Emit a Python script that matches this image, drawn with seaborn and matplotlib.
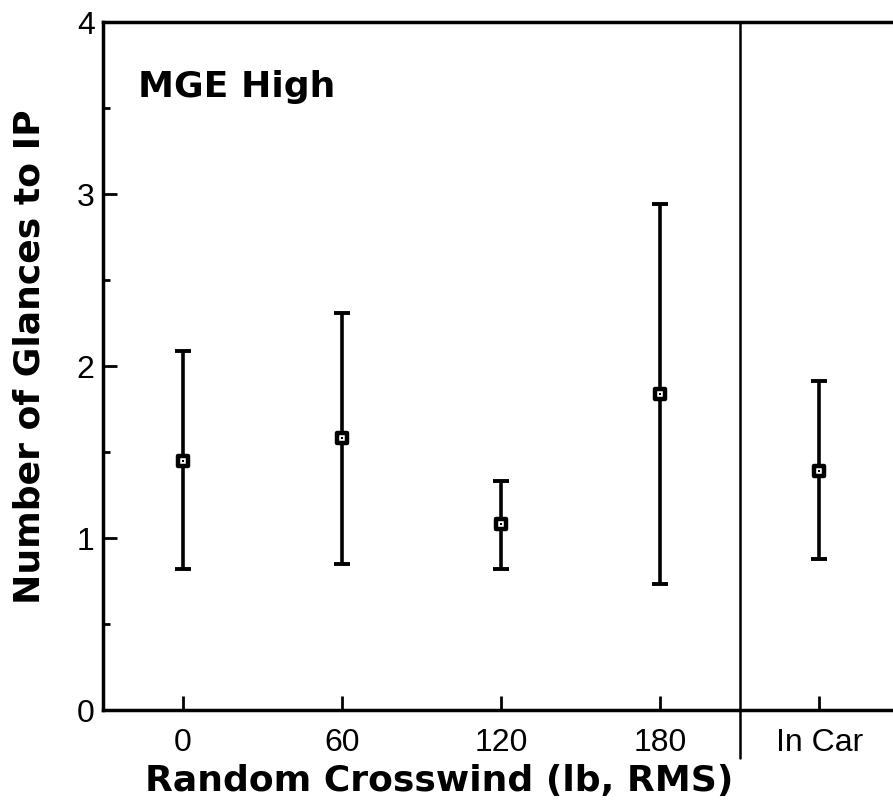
import matplotlib
matplotlib.use("Agg")
import matplotlib.pyplot as plt
import seaborn as sns
import pandas as pd
from matplotlib.ticker import MultipleLocator

categories = ["0", "60", "120", "180", "In Car"]
means = [1.45, 1.58, 1.08, 1.84, 1.39]
lower = [0.82, 0.85, 0.82, 0.73, 0.88]
upper = [2.09, 2.31, 1.33, 2.94, 1.91]
y_ticks = [0, 1, 2, 3, 4]

sns.set_theme(style="ticks")
plt.rcParams["font.family"] = ["Liberation Sans", "DejaVu Sans"]
plt.rcParams["text.color"] = "black"
plt.rcParams["axes.labelcolor"] = "black"

df = pd.DataFrame({"cond": categories, "pos": range(len(categories)),
                   "mean": means, "lo": lower, "hi": upper})

fig = plt.figure(figsize=(8.93, 8.05), dpi=100)
ax_w = 1.0 - 103 / 893 + 0.01
ax = fig.add_axes([103 / 893, 95 / 805, ax_w, 688 / 805])

ax.errorbar(df["pos"], df["mean"],
            yerr=[df["mean"] - df["lo"], df["hi"] - df["mean"]],
            fmt="none", ecolor="black", elinewidth=2.6, capsize=5.5, capthick=2.8, zorder=2)
sns.scatterplot(data=df, x="pos", y="mean", marker="s", s=55, color="white",
                edgecolor="black", linewidth=3.2, ax=ax, zorder=3, legend=False)
sns.scatterplot(data=df, x="pos", y="mean", marker="s", s=4, color="black",
                edgecolor="black", linewidth=0, ax=ax, zorder=4, legend=False)

ax.set_xlim(-0.5, 4.52)
ax.set_ylim(0, 4)
ax.set_xticks(df["pos"])
ax.set_xticklabels(categories)
ax.set_yticks(y_ticks)
ax.yaxis.set_minor_locator(MultipleLocator(0.5))

for s in ["left", "bottom", "top"]:
    ax.spines[s].set_linewidth(2.5)
    ax.spines[s].set_color("black")
ax.spines["right"].set_visible(False)

ax.tick_params(axis="both", which="major", direction="in", length=10, width=2,
               labelsize=23, colors="black", labelcolor="black")
ax.tick_params(axis="y", which="minor", direction="in", length=5, width=2, colors="black")
ax.tick_params(axis="x", which="major", pad=13)
ax.tick_params(axis="y", which="major", pad=6)

ax.axvline(3.5, ymin=-0.07, ymax=1, color="black", linewidth=1.8, clip_on=False)

ax.set_xlabel("Random Crosswind (lb, RMS)", fontsize=26, fontweight="bold",
              family=["DejaVu Sans"], color="black")
ax.xaxis.set_label_coords((439 - 103) / (ax_w * 893), -0.078)
ax.set_ylabel("Number of Glances to IP", fontsize=26, fontweight="bold",
              family=["DejaVu Sans"], color="black")
ax.yaxis.set_label_coords((47 - 103) / (ax_w * 893), (710 - 357) / 688)
ax.text(-0.28, 3.62, "MGE High", fontsize=26, fontweight="bold", ha="left", va="center",
        family=["DejaVu Sans"], color="black")

fig.savefig("out.png", dpi=100, facecolor="white")
